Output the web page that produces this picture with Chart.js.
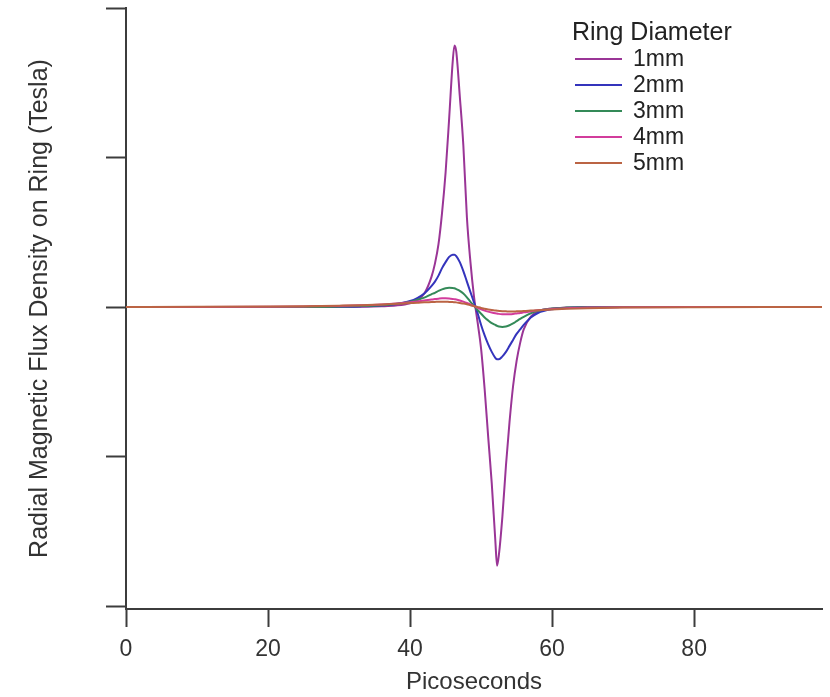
<!DOCTYPE html>
<html lang="en">
  <head>
    <meta charset="UTF-8" />
    <title>Radial Magnetic Flux Density on Ring</title>
    <script src="https://cdn.jsdelivr.net/npm/chart.js@4.4.1/dist/chart.umd.min.js"></script>
    <style>
      html,
      body {
        margin: 0;
        padding: 0;
        background: #fff;
      }
      #wrap {
        width: 830px;
        height: 697px;
      }
    </style>
  </head>
  <body>
    <div id="wrap">
      <canvas id="chart" width="830" height="697"></canvas>
    </div>
    <script>
      // sample times (ps) shared by every ring size
      const picoseconds = [
        0, 10, 20, 25, 30, 33, 36, 38, 40, 41, 42, 43, 43.5, 44, 44.5, 45,
        45.5, 46, 46.25, 46.5, 47, 47.5, 48, 48.5, 49, 49.5, 50, 50.5, 51,
        51.5, 52, 52.25, 52.5, 53, 53.5, 54, 54.5, 55, 55.5, 56, 57, 58, 60,
        62, 65, 70, 80, 90, 98,
      ];

      const ring1mm = [
        0, 0, 0, 0, 0.001, 0.002, 0.005, 0.01, 0.025, 0.045, 0.09, 0.2, 0.29,
        0.42, 0.63, 0.9, 1.26, 1.64, 1.75, 1.71, 1.41, 1.08, 0.6, 0.3, 0.07,
        -0.1, -0.28, -0.55, -0.87, -1.18, -1.56, -1.73, -1.66, -1.4, -1.06,
        -0.77, -0.53, -0.36, -0.24, -0.15, -0.065, -0.03, -0.01, -0.004,
        -0.001, 0, 0, 0, 0,
      ];

      const ring2mm = [
        0, 0, 0, 0, 0.002, 0.004, 0.01, 0.02, 0.04, 0.06, 0.09, 0.14, 0.17,
        0.21, 0.26, 0.3, 0.335, 0.35, 0.35, 0.34, 0.3, 0.24, 0.17, 0.1, 0.03,
        -0.04, -0.12, -0.19, -0.25, -0.3, -0.34, -0.35, -0.35, -0.33, -0.3,
        -0.26, -0.22, -0.18, -0.15, -0.12, -0.07, -0.04, -0.015, -0.006,
        -0.002, 0, 0, 0, 0,
      ];

      const ring3mm = [
        0, 0, 0, 0, 0.003, 0.006, 0.012, 0.02, 0.035, 0.048, 0.063, 0.085,
        0.095, 0.108, 0.118, 0.125, 0.128, 0.127, 0.125, 0.12, 0.108, 0.09,
        0.065, 0.035, 0.008, -0.02, -0.045, -0.07, -0.09, -0.108, -0.12,
        -0.126, -0.13, -0.133, -0.13, -0.122, -0.11, -0.095, -0.08, -0.066,
        -0.042, -0.026, -0.01, -0.004, -0.001, 0, 0, 0, 0,
      ];

      const ring4mm = [
        0, 0, 0.002, 0.004, 0.007, 0.011, 0.017, 0.023, 0.032, 0.037, 0.043,
        0.05, 0.053, 0.056, 0.058, 0.058, 0.057, 0.054, 0.052, 0.05, 0.044,
        0.036, 0.027, 0.017, 0.006, -0.005, -0.015, -0.024, -0.031, -0.037,
        -0.042, -0.044, -0.046, -0.048, -0.049, -0.048, -0.046, -0.043, -0.04,
        -0.036, -0.029, -0.022, -0.013, -0.008, -0.004, -0.001, 0, 0, 0,
      ];

      const ring5mm = [
        0, 0.001, 0.003, 0.005, 0.009, 0.012, 0.017, 0.021, 0.026, 0.028,
        0.031, 0.033, 0.034, 0.035, 0.035, 0.035, 0.034, 0.033, 0.032, 0.031,
        0.027, 0.023, 0.018, 0.012, 0.006, 0, -0.006, -0.011, -0.016, -0.02,
        -0.023, -0.025, -0.026, -0.028, -0.029, -0.03, -0.03, -0.029, -0.028,
        -0.027, -0.024, -0.021, -0.016, -0.012, -0.008, -0.004, -0.001, 0, 0,
      ];

      const seriesLabels = ["1mm", "2mm", "3mm", "4mm", "5mm"];
      const seriesValues = [ring1mm, ring2mm, ring3mm, ring4mm, ring5mm];
      const seriesColors = ["#9a3596", "#3434bc", "#348a58", "#d23c9c", "#bb6444"];
      const xTicks = [0, 20, 40, 60, 80];
      const yTicks = [-2, -1, 0, 1, 2];

      const font = "'Liberation Sans', Arial, sans-serif";
      const axisColor = "#3c3c3c";

      // legend sits inside the plot, top right
      const ringLegend = {
        id: "ringLegend",
        afterDraw(chart) {
          const ctx = chart.ctx;
          ctx.save();
          ctx.fillStyle = "#222";
          ctx.textBaseline = "alphabetic";
          ctx.font = "25px " + font;
          ctx.fillText("Ring Diameter", 572, 40);
          ctx.font = "23px " + font;
          ctx.textBaseline = "middle";
          seriesLabels.forEach((label, i) => {
            const y = 59 + i * 26;
            ctx.strokeStyle = seriesColors[i];
            ctx.lineWidth = 2;
            ctx.beginPath();
            ctx.moveTo(575, y);
            ctx.lineTo(622, y);
            ctx.stroke();
            ctx.fillStyle = "#222";
            ctx.fillText(label, 633, y + 1);
          });
          ctx.restore();
        },
      };

      const datasets = seriesLabels.map((label, i) => ({
        label,
        data: picoseconds.map((x, j) => ({ x, y: seriesValues[i][j] })),
        borderColor: seriesColors[i],
        borderWidth: 2,
        pointRadius: 0,
        fill: false,
        cubicInterpolationMode: "monotone",
        order: seriesLabels.length - i,
      }));

      new Chart(document.getElementById("chart"), {
        type: "line",
        data: { datasets },
        plugins: [ringLegend],
        options: {
          responsive: false,
          animation: false,
          layout: { padding: { top: 8, right: 8, left: 0, bottom: 0 } },
          plugins: {
            legend: { display: false },
            tooltip: { enabled: false },
          },
          scales: {
            x: {
              type: "linear",
              min: 0,
              max: 98,
              afterBuildTicks: (s) => {
                s.ticks = xTicks.map((v) => ({ value: v }));
              },
              afterFit: (s) => {
                s.height = 88;
              },
              ticks: {
                color: "#333",
                font: { family: font, size: 23 },
                padding: 9,
              },
              grid: {
                drawOnChartArea: false,
                tickLength: 18,
                tickColor: axisColor,
                tickWidth: 2,
              },
              border: { color: axisColor, width: 2 },
              title: {
                display: true,
                text: "Picoseconds",
                color: "#333",
                font: { family: font, size: 24 },
                padding: { top: 0, bottom: 0 },
              },
            },
            y: {
              min: -2.02,
              max: 2,
              afterBuildTicks: (s) => {
                s.ticks = yTicks.map((v) => ({ value: v }));
              },
              afterFit: (s) => {
                s.width = 126;
              },
              ticks: { display: false },
              grid: {
                drawOnChartArea: false,
                tickLength: 20,
                tickColor: axisColor,
                tickWidth: 2,
              },
              border: { color: axisColor, width: 2 },
              title: {
                display: true,
                text: "Radial Magnetic Flux Density on Ring (Tesla)",
                color: "#333",
                font: { family: font, size: 25 },
                padding: { top: 25, bottom: 0 },
              },
            },
          },
        },
      });
    </script>
  </body>
</html>
